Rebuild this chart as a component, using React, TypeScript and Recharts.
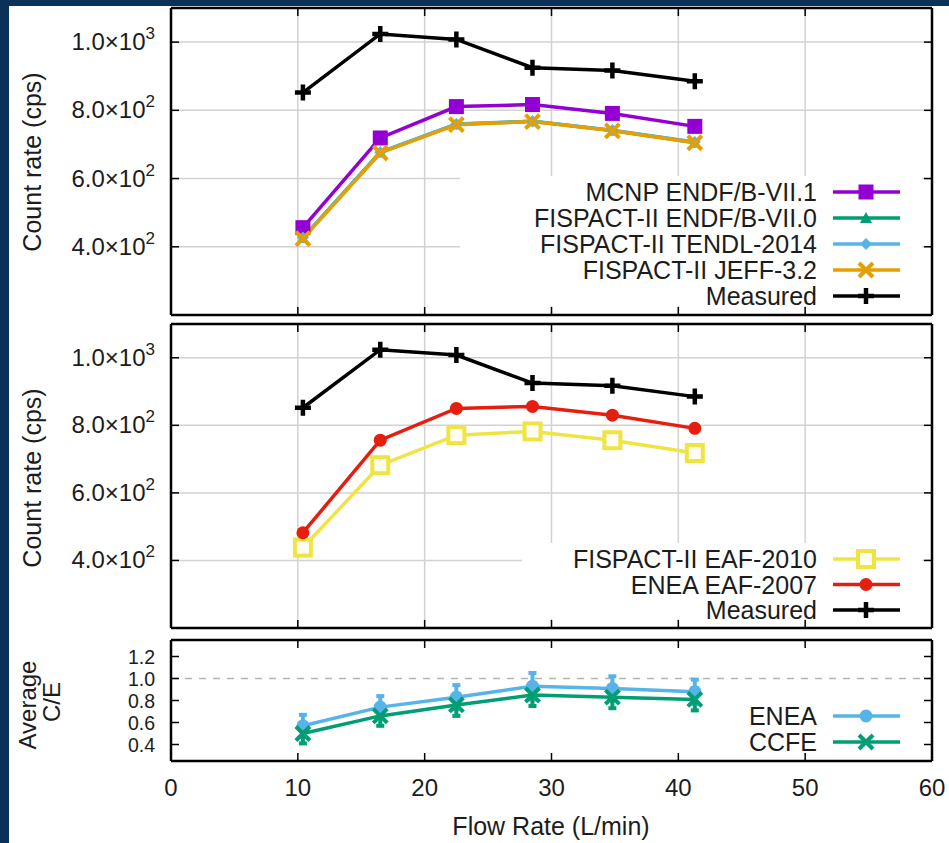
import { LineChart, Line, XAxis, YAxis, CartesianGrid, ErrorBar, ReferenceLine } from "recharts";

// flow rate (L/min) of the six measurement points
const flowRate = [10.4, 16.5, 22.5, 28.5, 34.8, 41.3];

// count rates (cps)
const measured = [852, 1024, 1008, 925, 917, 885];
const mcnpEndf71 = [456, 719, 811, 817, 791, 753];
const fispactEndf70 = [426, 677, 759, 768, 741, 706];
const fispactTendl = [427, 677, 760, 768, 742, 707];
const fispactJeff = [424, 675, 758, 767, 740, 705];
const fispactEaf2010 = [438, 682, 771, 782, 756, 718];
const eneaEaf2007 = [482, 756, 850, 856, 830, 791];

// average C/E
const ceEnea = [0.57, 0.74, 0.83, 0.93, 0.91, 0.88];
const ceEneaErr = [0.1, 0.1, 0.11, 0.12, 0.11, 0.11];
const ceCcfe = [0.5, 0.66, 0.76, 0.85, 0.83, 0.81];
const ceCcfeErr = [0.09, 0.09, 0.1, 0.1, 0.1, 0.1];

const xTicks = [0, 10, 20, 30, 40, 50, 60];
const countTicks = [400, 600, 800, 1000];
const ceTicks = [0.4, 0.6, 0.8, 1.0, 1.2];

const topLegend = ["MCNP ENDF/B-VII.1", "FISPACT-II ENDF/B-VII.0", "FISPACT-II TENDL-2014", "FISPACT-II JEFF-3.2", "Measured"];
const midLegend = ["FISPACT-II EAF-2010", "ENEA EAF-2007", "Measured"];
const ceLegend = ["ENEA", "CCFE"];

const FONT = "'Liberation Sans', Arial, sans-serif";
const TEXT = "#1c1c1c";
const PURPLE = "#9400d3";
const GREEN = "#009e73";
const BLUE = "#56b4e9";
const ORANGE = "#e69f00";
const YELLOW = "#f0e442";
const RED = "#e51e10";
const BLACK = "#000000";
const LW = 3.5;

const countData = flowRate.map((x, i) => ({
  x,
  measured: measured[i],
  mcnp: mcnpEndf71[i],
  endf: fispactEndf70[i],
  tendl: fispactTendl[i],
  jeff: fispactJeff[i],
  eaf2010: fispactEaf2010[i],
  enea2007: eneaEaf2007[i],
}));

const ceData = flowRate.map((x, i) => ({
  x,
  enea: ceEnea[i],
  eneaErr: ceEneaErr[i],
  ccfe: ceCcfe[i],
  ccfeErr: ceCcfeErr[i],
}));

const Marker = ({ shape, color, cx, cy }: any) => {
  if (cx == null || cy == null) return <g />;
  switch (shape) {
    case "square":
      return <rect x={cx - 7.5} y={cy - 7.5} width={15} height={15} fill={color} />;
    case "openSquare":
      return <rect x={cx - 8} y={cy - 8} width={16} height={16} fill="#fffdf0" stroke={color} strokeWidth={4} />;
    case "triangle":
      return <polygon points={`${cx},${cy - 6} ${cx - 6},${cy + 5} ${cx + 6},${cy + 5}`} fill={color} />;
    case "diamond":
      return <polygon points={`${cx},${cy - 6} ${cx + 6},${cy} ${cx},${cy + 6} ${cx - 6},${cy}`} fill={color} />;
    case "circle":
      return <circle cx={cx} cy={cy} r={6.5} fill={color} />;
    case "cross":
      return (
        <g stroke={color} strokeWidth={4}>
          <line x1={cx - 7} y1={cy - 7} x2={cx + 7} y2={cy + 7} />
          <line x1={cx - 7} y1={cy + 7} x2={cx + 7} y2={cy - 7} />
        </g>
      );
    default:
      return (
        <g stroke={color} strokeWidth={4.5}>
          <line x1={cx - 8} y1={cy} x2={cx + 8} y2={cy} />
          <line x1={cx} y1={cy - 8} x2={cx} y2={cy + 8} />
        </g>
      );
  }
};

const dot = (shape: string, color: string) => (p: any) =>
  <Marker key={`d-${shape}-${p.index}`} shape={shape} color={color} cx={p.cx} cy={p.cy} />;

const Blank = () => <g />;

const CountTick = ({ y, payload }: any) => {
  const v = payload.value;
  const exp = Math.floor(Math.log10(v) + 1e-9);
  const mant = (v / Math.pow(10, exp)).toFixed(1);
  return (
    <text x={155} y={y + 8} textAnchor="end" fontSize={24} fontFamily={FONT} fill={TEXT}>
      {mant}×10<tspan dy={-11} fontSize={17}>{exp}</tspan>
    </text>
  );
};

// labels of the C/E panel sit close together, keep them a bit smaller
const CeTick = ({ y, payload }: any) => (
  <text x={155} y={y + 7} textAnchor="end" fontSize={19.5} fontFamily={FONT} fill={TEXT}>
    {payload.value.toFixed(1)}
  </text>
);

const FlowTick = ({ x, payload }: any) => (
  <text x={x} y={164} textAnchor="middle" fontSize={24} fontFamily={FONT} fill={TEXT}>
    {payload.value}
  </text>
);

const frameLine = { stroke: BLACK, strokeWidth: 2.5 };
const tickLine = { stroke: BLACK, strokeWidth: 1.5 };

const frameAxes = (domain: number[], yTicks: number[], yTick: any, xTick: any) => [
  <XAxis key="xb" xAxisId={0} type="number" dataKey="x" domain={[0, 60]} ticks={xTicks} height={1}
    tickSize={-8} axisLine={frameLine} tickLine={tickLine} tick={xTick} interval={0} />,
  <XAxis key="xt" xAxisId="top" orientation="top" type="number" dataKey="x" domain={[0, 60]} ticks={xTicks}
    height={1} tickSize={-8} axisLine={frameLine} tickLine={tickLine} tick={<Blank />} interval={0} />,
  <YAxis key="yl" yAxisId={0} type="number" domain={domain} ticks={yTicks} width={160} allowDataOverflow
    tickSize={-8} axisLine={frameLine} tickLine={tickLine} tick={yTick} interval={0} />,
  <YAxis key="yr" yAxisId="right" orientation="right" type="number" domain={domain} ticks={yTicks} width={10}
    allowDataOverflow tickSize={-8} axisLine={frameLine} tickLine={tickLine} tick={<Blank />} interval={0} />,
];

const series = (key: string, color: string, shape: string) => (
  <Line key={key} type="linear" dataKey={key} stroke={color} strokeWidth={LW} dot={dot(shape, color)}
    activeDot={false} isAnimationActive={false} />
);

const LegendRow = ({ label, color, shape, y }: any) => (
  <g>
    <text x={817} y={y + 9} textAnchor="end" fontSize={25} fontFamily={FONT} fill={TEXT}>{label}</text>
    <line x1={833} y1={y} x2={900} y2={y} stroke={color} strokeWidth={LW} />
    <Marker shape={shape} color={color} cx={866} cy={y} />
  </g>
);

export default function App() {
  const topStyles = [[PURPLE, "square"], [GREEN, "triangle"], [BLUE, "diamond"], [ORANGE, "cross"], [BLACK, "plus"]];
  const midStyles = [[YELLOW, "openSquare"], [RED, "circle"], [BLACK, "plus"]];
  const ceStyles = [[BLUE, "circle"], [GREEN, "cross"]];
  return (
    <div style={{ position: "absolute", left: 0, top: 0, width: 949, height: 843, background: "#0c3158", fontFamily: FONT }}>
      <div style={{ position: "absolute", left: 9, top: 6, width: 940, height: 837, background: "#fff" }} />

      <div style={{ position: "absolute", left: 0, top: 0 }}>
        <LineChart width={949} height={330} data={countData} margin={{ top: 7, right: 7, bottom: 14, left: 11 }}>
          <CartesianGrid stroke="#d2d2d2" strokeWidth={1.5} />
          {frameAxes([200, 1100], countTicks, <CountTick />, <Blank />)}
          {series("mcnp", PURPLE, "square")}
          {series("endf", GREEN, "triangle")}
          {series("tendl", BLUE, "diamond")}
          {series("jeff", ORANGE, "cross")}
          {series("measured", BLACK, "plus")}
        </LineChart>
      </div>

      <div style={{ position: "absolute", left: 0, top: 316 }}>
        <LineChart width={949} height={320} data={countData} margin={{ top: 7, right: 7, bottom: 7, left: 11 }}>
          <CartesianGrid stroke="#d2d2d2" strokeWidth={1.5} />
          {frameAxes([200, 1100], countTicks, <CountTick />, <Blank />)}
          {series("eaf2010", YELLOW, "openSquare")}
          {series("enea2007", RED, "circle")}
          {series("measured", BLACK, "plus")}
        </LineChart>
      </div>

      <div style={{ position: "absolute", left: 0, top: 632 }}>
        <LineChart width={949} height={211} data={ceData} margin={{ top: 7, right: 7, bottom: 81, left: 11 }}>
          <ReferenceLine y={1} stroke="#b4b4b4" strokeDasharray="7 7" strokeWidth={1.5} />
          {frameAxes([0.25, 1.35], ceTicks, <CeTick />, <FlowTick />)}
          <Line type="linear" dataKey="enea" stroke={BLUE} strokeWidth={LW} dot={dot("circle", BLUE)}
            activeDot={false} isAnimationActive={false}>
            <ErrorBar dataKey="eneaErr" width={4} stroke={BLUE} strokeWidth={4} direction="y" />
          </Line>
          <Line type="linear" dataKey="ccfe" stroke={GREEN} strokeWidth={LW} dot={dot("cross", GREEN)}
            activeDot={false} isAnimationActive={false}>
            <ErrorBar dataKey="ccfeErr" width={4} stroke={GREEN} strokeWidth={4} direction="y" />
          </Line>
        </LineChart>
      </div>

      <svg width={949} height={843} style={{ position: "absolute", left: 0, top: 0, pointerEvents: "none" }}>
        <rect x={460} y={176} width={462} height={130} fill="#fff" />
        <rect x={522} y={543} width={400} height={76} fill="#fff" />
        {topLegend.map((label, i) => (
          <LegendRow key={label} label={label} color={topStyles[i][0]} shape={topStyles[i][1]} y={192 + i * 26} />
        ))}
        {midLegend.map((label, i) => (
          <LegendRow key={label} label={label} color={midStyles[i][0]} shape={midStyles[i][1]} y={559 + i * 25.5} />
        ))}
        {ceLegend.map((label, i) => (
          <LegendRow key={label} label={label} color={ceStyles[i][0]} shape={ceStyles[i][1]} y={716 + i * 26} />
        ))}
        <text transform="translate(41,162) rotate(-90)" textAnchor="middle" fontSize={25} fontFamily={FONT} fill={TEXT}>
          Count rate (cps)
        </text>
        <text transform="translate(41,478) rotate(-90)" textAnchor="middle" fontSize={25} fontFamily={FONT} fill={TEXT}>
          Count rate (cps)
        </text>
        <text transform="translate(36,705) rotate(-90)" textAnchor="middle" fontSize={24} fontFamily={FONT} fill={TEXT}>
          Average
        </text>
        <text transform="translate(60,702) rotate(-90)" textAnchor="middle" fontSize={24} fontFamily={FONT} fill={TEXT}>
          C/E
        </text>
        <text x={551} y={835} textAnchor="middle" fontSize={25} fontFamily={FONT} fill={TEXT}>
          Flow Rate (L/min)
        </text>
      </svg>
    </div>
  );
}
